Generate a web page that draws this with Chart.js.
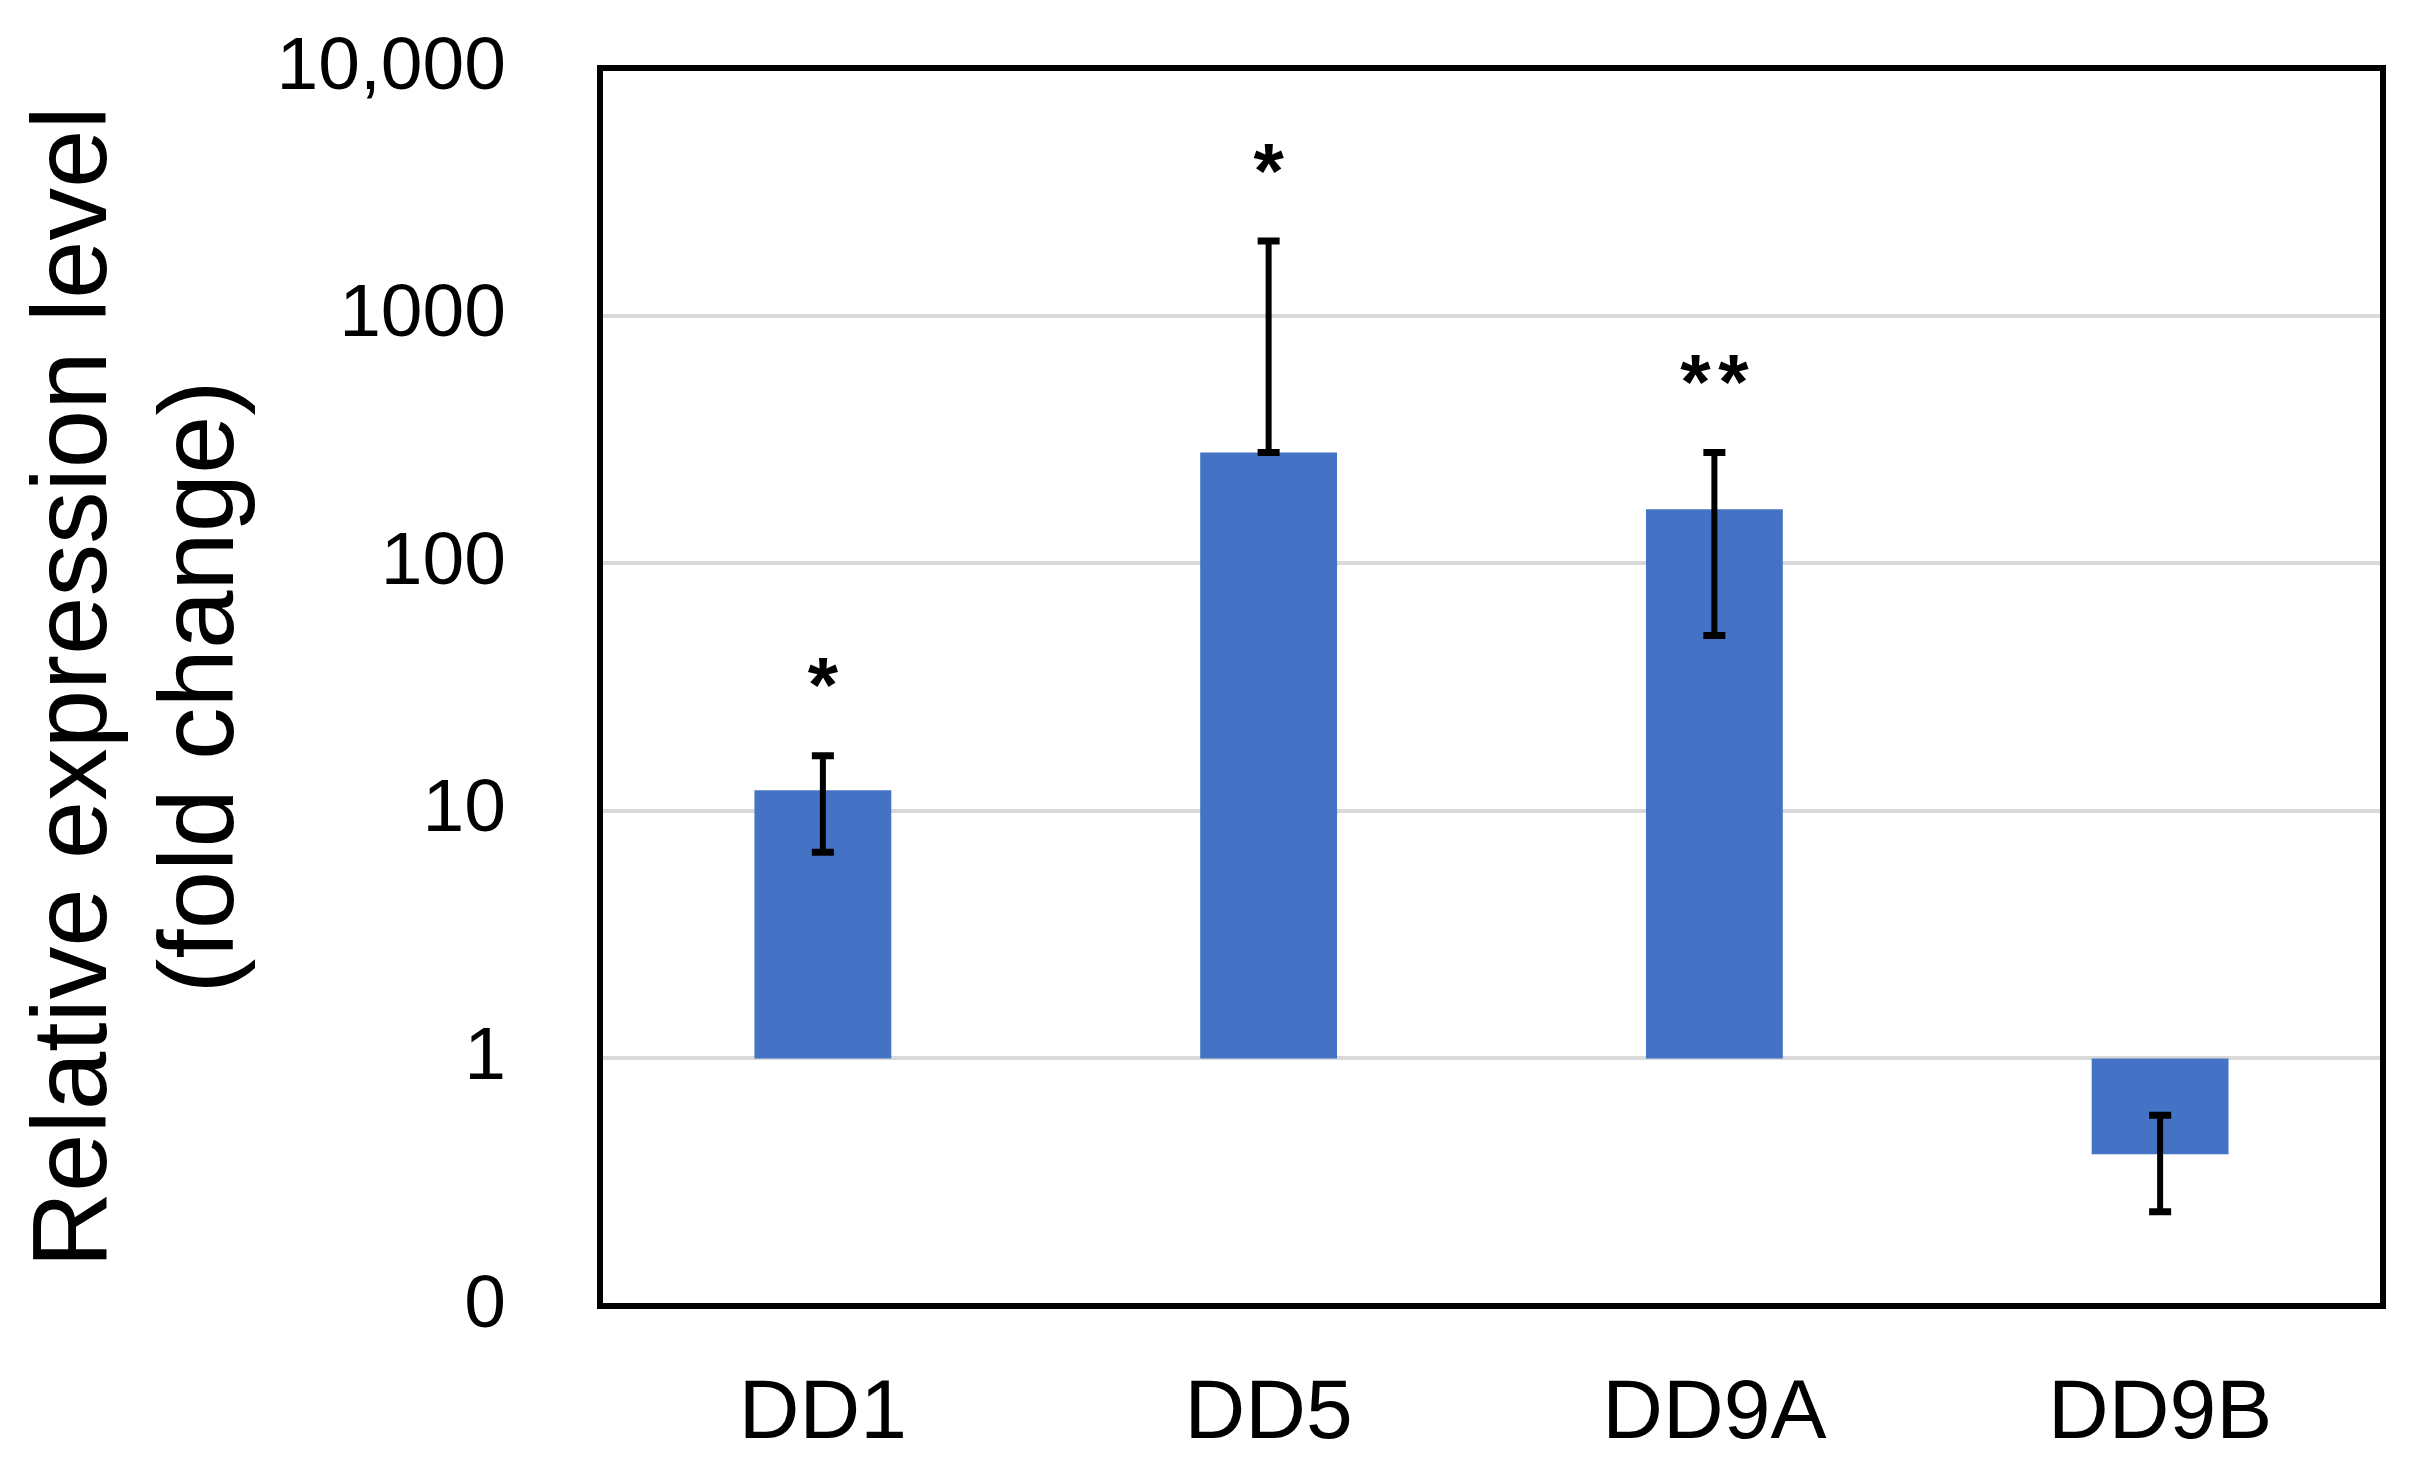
<!DOCTYPE html>
<html>
<head>
<meta charset="utf-8">
<script src="https://cdn.jsdelivr.net/npm/chart.js@4.4.1/dist/chart.umd.min.js"></script>
<style>
    html, body { margin: 0; padding: 0; background: #ffffff; }
    #wrap { width: 2414px; height: 1479px; }
</style>
</head>
<body>
<div id="wrap"><canvas id="expressionChart" width="2414" height="1479"></canvas></div>
<script>
const categories = ['DD1', 'DD5', 'DD9A', 'DD9B'];
const foldChange = [12.1, 280, 165, 0.41];
const errLow = [6.8, 280, 51, 0.24];
const errHigh = [16.7, 2000, 280, 0.59];
const significance = ['*', '*', '**', ''];
const yTickValues = [0.1, 1, 10, 100, 1000, 10000];
const yTickLabels = ['0', '1', '10', '100', '1000', '10,000'];

const FONT = "'Liberation Sans', Arial, sans-serif";

// error bars, drawn from the y scale
const errorBarPlugin = {
    id: 'errorBars',
    afterDatasetsDraw(chart) {
        const ctx = chart.ctx;
        const y = chart.scales.y;
        const meta = chart.getDatasetMeta(0);
        ctx.save();
        ctx.strokeStyle = '#000000';
        meta.data.forEach((bar, i) => {
            const top = y.getPixelForValue(errHigh[i]);
            const bottom = y.getPixelForValue(errLow[i]);
            ctx.lineWidth = 6;
            ctx.beginPath();
            ctx.moveTo(bar.x, top);
            ctx.lineTo(bar.x, bottom);
            ctx.stroke();
            ctx.lineWidth = 7;
            ctx.beginPath();
            ctx.moveTo(bar.x - 11, top);
            ctx.lineTo(bar.x + 11, top);
            ctx.moveTo(bar.x - 11, bottom);
            ctx.lineTo(bar.x + 11, bottom);
            ctx.stroke();
        });
        ctx.restore();
    }
};

// asterisks above the error bars
const significancePlugin = {
    id: 'significance',
    afterDatasetsDraw(chart) {
        const ctx = chart.ctx;
        const y = chart.scales.y;
        const meta = chart.getDatasetMeta(0);
        const size = 78;
        ctx.save();
        ctx.fillStyle = '#000000';
        ctx.font = `bold ${size}px ${FONT}`;
        ctx.textAlign = 'center';
        ctx.textBaseline = 'alphabetic';
        meta.data.forEach((bar, i) => {
            const marks = significance[i];
            if (!marks) return;
            const cy = y.getPixelForValue(errHigh[i]) - 88;
            const step = 38;
            const x0 = bar.x - step * (marks.length - 1) / 2;
            for (let k = 0; k < marks.length; k++) {
                ctx.fillText(marks[k], x0 + k * step, cy + 0.57 * size);
            }
        });
        ctx.restore();
    }
};

// black frame round the plot area
const framePlugin = {
    id: 'frame',
    afterDraw(chart) {
        const {ctx, chartArea} = chart;
        ctx.save();
        ctx.strokeStyle = '#000000';
        ctx.lineWidth = 6;
        ctx.strokeRect(chartArea.left, chartArea.top,
            chartArea.right - chartArea.left, chartArea.bottom - chartArea.top);
        ctx.restore();
    }
};

window.addEventListener('DOMContentLoaded', () => {
    const ctx = document.getElementById('expressionChart').getContext('2d');
    new Chart(ctx, {
        type: 'bar',
        data: {
            labels: categories,
            datasets: [{
                data: foldChange.map(v => [1, v]),
                backgroundColor: '#4472C4',
                borderWidth: 0,
                barPercentage: 0.307,
                categoryPercentage: 1.0
            }]
        },
        options: {
            responsive: false,
            devicePixelRatio: 1,
            animation: false,
            layout: {padding: {left: 0, right: 31, top: 68, bottom: 0}},
            plugins: {
                legend: {display: false},
                tooltip: {enabled: false}
            },
            scales: {
                x: {
                    grid: {display: false},
                    border: {display: false},
                    ticks: {
                        color: '#000000',
                        padding: 50,
                        font: {family: FONT, size: 84}
                    },
                    afterFit(scale) { scale.height = 173; }
                },
                y: {
                    type: 'logarithmic',
                    min: 0.1,
                    max: 10000,
                    afterBuildTicks(scale) {
                        scale.ticks = yTickValues.map(v => ({value: v}));
                    },
                    afterFit(scale) {
                        scale.width = 600;
                        scale.paddingTop = 0;
                        scale.paddingBottom = 0;
                    },
                    grid: {
                        color: '#d9d9d9',
                        lineWidth: 4,
                        drawTicks: false
                    },
                    border: {display: false},
                    ticks: {
                        color: '#000000',
                        padding: 94,
                        font: {family: FONT, size: 75},
                        callback: (value, index) => yTickLabels[index]
                    },
                    title: {
                        display: true,
                        text: ['Relative expression level', '(fold change)'],
                        color: '#000000',
                        padding: {top: 13.5, bottom: 0},
                        font: {family: FONT, size: 105, lineHeight: '127px'}
                    }
                }
            }
        },
        plugins: [errorBarPlugin, significancePlugin, framePlugin]
    });
});
</script>
</body>
</html>
